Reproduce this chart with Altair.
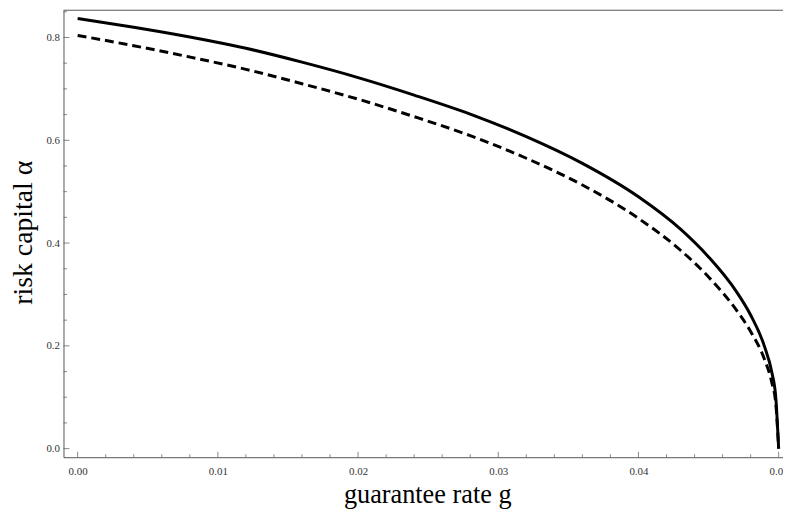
import altair as alt
import pandas as pd

# guarantee rate g (x) and risk capital alpha (y)
g = [0.0, 0.004, 0.008, 0.012, 0.016, 0.020, 0.024, 0.028, 0.032, 0.036,
     0.040, 0.043, 0.045, 0.047, 0.048, 0.049, 0.0495, 0.0498, 0.05]
alpha_solid = [0.837, 0.820, 0.801, 0.779, 0.752, 0.722, 0.688, 0.651, 0.607, 0.555,
               0.490, 0.427, 0.373, 0.305, 0.260, 0.198, 0.150, 0.098, 0.0]
alpha_dashed = [0.804, 0.784, 0.762, 0.738, 0.710, 0.680, 0.646, 0.609, 0.565, 0.513,
                0.448, 0.386, 0.334, 0.269, 0.228, 0.173, 0.130, 0.086, 0.0]

x_major = [0.00, 0.01, 0.02, 0.03, 0.04, 0.05]
x_minor = [0.002, 0.004, 0.006, 0.008, 0.012, 0.014, 0.016, 0.018,
           0.022, 0.024, 0.026, 0.028, 0.032, 0.034, 0.036, 0.038,
           0.042, 0.044, 0.046, 0.048]
y_major = [0.0, 0.2, 0.4, 0.6, 0.8]
y_minor = [0.05, 0.10, 0.15, 0.25, 0.30, 0.35, 0.45, 0.50, 0.55,
           0.65, 0.70, 0.75, 0.85]

x_title = "guarantee rate g"
y_title = "risk capital α"

W, H = 726, 451
xdom = [-0.00101, 0.05031]
ydom = [-0.0167, 0.853]
FONT = "Liberation Serif"
FRAME = "#555555"

xs = alt.Scale(domain=xdom, nice=False, zero=False)
ys = alt.Scale(domain=ydom, nice=False, zero=False)

df_solid = pd.DataFrame({"g": g, "a": alpha_solid})
df_dashed = pd.DataFrame({"g": g, "a": alpha_dashed})

x_axis = alt.Axis(values=x_major, format=".2f", grid=False, ticks=False,
                  domain=True, domainColor=FRAME, domainWidth=1,
                  labelFont=FONT, labelFontSize=11, labelColor="#333333",
                  labelPadding=8, labelFlush=False, labelOverlap=False,
                  title=x_title, titleFont=FONT, titleFontSize=26.5,
                  titleFontWeight="normal", titleColor="black",
                  titleX=367, titleY=46, titleBaseline="alphabetic")
y_axis = alt.Axis(values=y_major, format=".1f", grid=False, ticks=False,
                  domain=True, domainColor=FRAME, domainWidth=1,
                  labelFont=FONT, labelFontSize=11, labelColor="#333333",
                  labelPadding=4, labelFlush=False, labelOverlap=False,
                  title=y_title, titleFont=FONT, titleFontSize=28,
                  titleFontWeight="normal", titleColor="black",
                  titleAngle=270, titleX=-32, titleY=224,
                  titleBaseline="alphabetic")

solid = alt.Chart(df_solid).mark_line(color="black", strokeWidth=3,
                                      interpolate="monotone").encode(
    x=alt.X("g:Q", scale=xs, axis=x_axis),
    y=alt.Y("a:Q", scale=ys, axis=y_axis),
)
dashed = alt.Chart(df_dashed).mark_line(color="black", strokeWidth=3,
                                        strokeDash=[9, 5],
                                        interpolate="monotone").encode(
    x=alt.X("g:Q", scale=xs),
    y=alt.Y("a:Q", scale=ys),
)

ytm = alt.Chart(pd.DataFrame({"g": y_major})).mark_tick(
    color=FRAME, size=6, thickness=1).encode(
    y=alt.Y("g:Q", scale=ys), x=alt.value(3))
ytn = alt.Chart(pd.DataFrame({"g": y_minor})).mark_tick(
    color=FRAME, size=3.5, thickness=1).encode(
    y=alt.Y("g:Q", scale=ys), x=alt.value(1.75))
xtm = alt.Chart(pd.DataFrame({"g": x_major})).mark_tick(
    color=FRAME, size=5.5, thickness=1).encode(
    x=alt.X("g:Q", scale=xs), y=alt.value(H - 2.75))
xtn = alt.Chart(pd.DataFrame({"g": x_minor})).mark_tick(
    color=FRAME, size=3, thickness=1).encode(
    x=alt.X("g:Q", scale=xs), y=alt.value(H - 1.5))

top = alt.Chart(pd.DataFrame({"g": [0]})).mark_rule(
    color=FRAME, strokeWidth=1).encode(
    x=alt.value(0), x2=alt.value(W), y=alt.value(0))

chart = alt.layer(solid, dashed, ytm, ytn, xtm, xtn, top).properties(
    width=W, height=H,
    autosize=alt.AutoSizeParams(type="none"),
    padding={"left": 56, "top": 0, "right": 0, "bottom": 51},
).configure_view(strokeWidth=0)

chart.save("out.html", embed_options={"renderer": "svg", "actions": False})
